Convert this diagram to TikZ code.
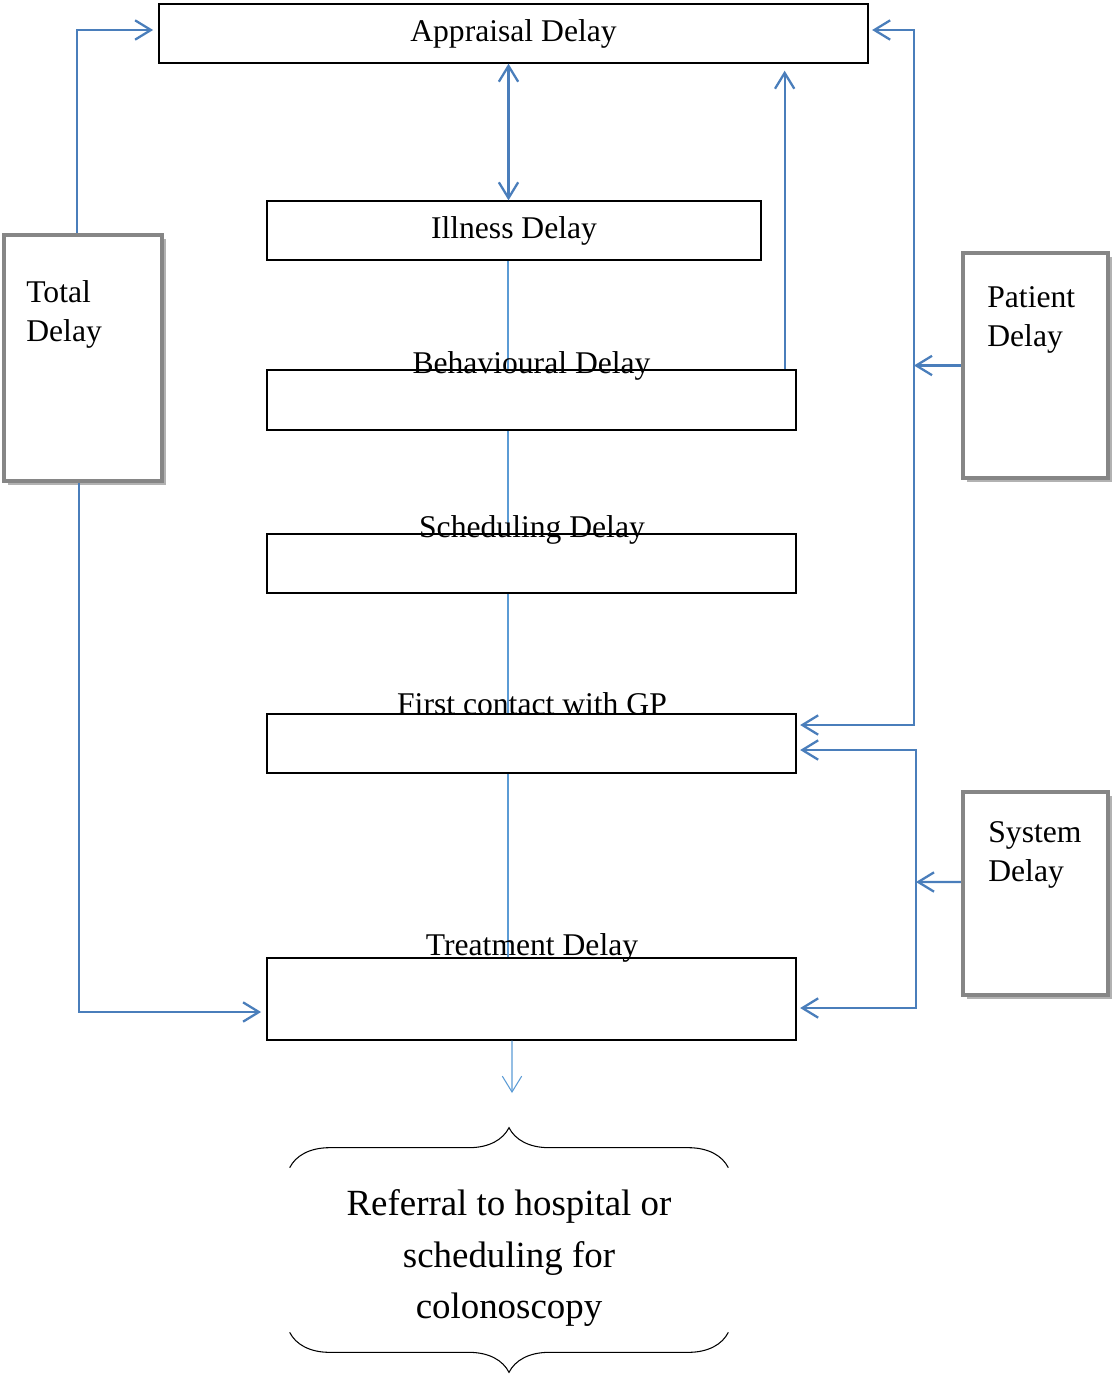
\documentclass[tikz,border=0pt]{standalone}
\usepackage{fontspec}
\setmainfont{Liberation Serif}
\usetikzlibrary{arrows.meta,shadows,decorations.pathreplacing}
\definecolor{linkblue}{RGB}{74,126,187}
\definecolor{paleblue}{RGB}{91,155,213}
\pgfdeclarelayer{background}
\pgfsetlayers{background,main}
\begin{document}
\begin{tikzpicture}[x=0.02cm, y=-0.02cm, >={Straight Barb[length=9pt,width=11pt]},
box/.style={draw=black, line width=0.8pt, fill=white, inner sep=0pt, minimum height=1.18cm},
sidebox/.style={draw=gray!95, line width=2.4pt, fill=white, inner sep=0pt, drop shadow={shadow xshift=2.5pt, shadow yshift=-2.5pt, fill=black, opacity=0.3}},
boxtext/.style={font=\fontsize{18}{22.5}\selectfont, inner sep=0pt},
link/.style={draw=linkblue, line width=1.3pt},
thinlink/.style={draw=paleblue, line width=0.6pt}]
\useasboundingbox (0,0) rectangle (1116,1376);
\node[box, boxtext, minimum width=14.18cm](appr) at (513.5,33.5){Appraisal Delay};
\node[box, boxtext, minimum width=9.88cm](ill) at (514,230.5){Illness Delay};
\node[box, minimum width=10.58cm, minimum height=1.2cm](beh) at (531.5,400){};
\node[box, minimum width=10.58cm](sch) at (531.5,563.5){};
\node[box, minimum width=10.58cm](gp) at (531.5,743.5){};
\node[box, minimum width=10.58cm, minimum height=1.64cm](treat) at (531.5,999){};
\node[boxtext, anchor=base](behlab) at (531.5,373){Behavioural Delay};
\node[boxtext, anchor=base](schlab) at (532,537){Scheduling Delay};
\node[boxtext, anchor=base](gplab) at (532,714){First contact with GP};
\node[boxtext, anchor=base](treatlab) at (532,955){Treatment Delay};
\begin{pgfonlayer}{background}
\draw[thinlink]([xshift=-0.12cm]ill.south)--([xshift=-0.12cm]ill.south |- treat.north);
\end{pgfonlayer}

\node[sidebox, minimum width=3.16cm, minimum height=4.92cm](total) at (83,358){};
\node[sidebox, minimum width=2.9cm, minimum height=4.5cm](patient) at (1035.5,365.5){};
\node[sidebox, minimum width=2.9cm, minimum height=4.06cm](system) at (1035.5,893.5){};
\node[boxtext, align=left, anchor=north west](totallab) at (26,280){Total\\Delay};
\node[boxtext, align=left, anchor=north west](patientlab) at (987,286){Patient\\Delay};
\node[boxtext, align=left, anchor=north west](systemlab) at (988,821){System\\Delay};

\draw[link, <->]([xshift=-0.1cm]appr.south)--([xshift=-0.1cm]appr.south |- ill.north);
\draw[link, ->, shorten >=4pt]([xshift=-0.24cm]beh.north east)--([xshift=-0.24cm]beh.north east |- appr.south);
\draw[link, ->, shorten >=3pt]([xshift=-0.12cm]total.north) |- ([yshift=0.07cm]appr.west);
\draw[link, ->, shorten >=3pt]([xshift=-0.08cm]total.south) |- ([yshift=-0.26cm]treat.west);

\coordinate(pjoin) at (914,368);
\draw[link, ->](patient.west)--(patient.west -| pjoin);
\draw[link, ->, shorten >=2pt](pjoin) |- ([yshift=0.07cm]appr.east);
\draw[link, ->, shorten >=2pt](pjoin) |- ([yshift=0.37cm]gp.east);

\coordinate(sjoin) at (916,882);
\draw[link, ->]([yshift=0.23cm]system.west)--(sjoin);
\draw[link, ->, shorten >=2pt](sjoin) |- ([yshift=-0.13cm]gp.east);
\draw[link, ->, shorten >=2pt](sjoin) |- ([yshift=-0.18cm]treat.east);

\node[font=\fontsize{21}{29.5}\selectfont, align=center, minimum width=8.76cm, minimum height=3.28cm, inner sep=0pt](ref) at (509,1258){Referral to hospital or\\scheduling for\\colonoscopy};
\coordinate(refin) at (512,1093);
\draw[thinlink, ->]([xshift=-0.39cm]treat.south)--(refin);
\draw[decorate, decoration={brace, amplitude=0.8cm}, line width=0.6pt]([yshift=0.16cm]ref.north west)--([yshift=0.16cm]ref.north east);
\draw[decorate, decoration={brace, amplitude=0.8cm}, line width=0.6pt]([yshift=0.16cm]ref.south east)--([yshift=0.16cm]ref.south west);


\end{tikzpicture}
\end{document}
